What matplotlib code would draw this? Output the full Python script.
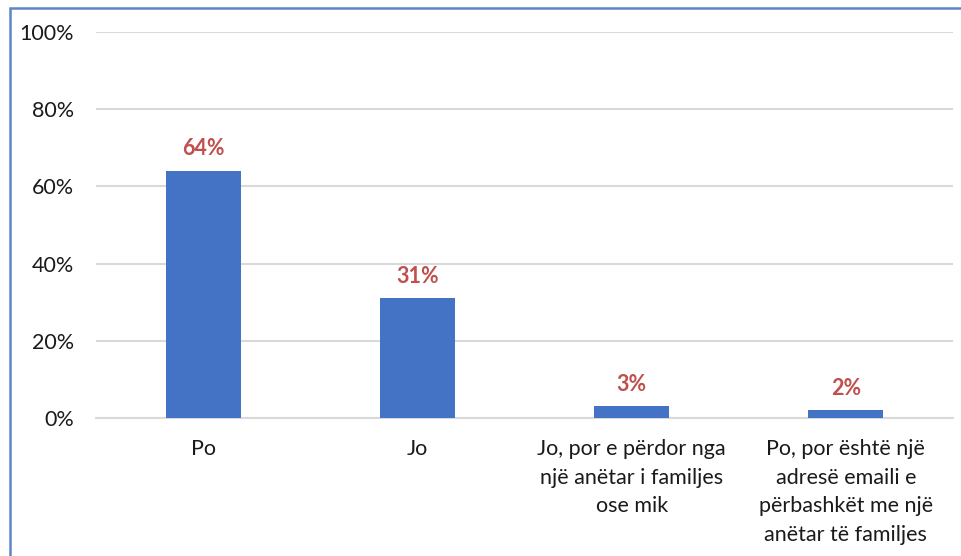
"""
Bar chart of email account usage responses (percent of respondents)
"""

### Import modules
import numpy as np
import matplotlib.pyplot as plt
from matplotlib.patches import Rectangle
from matplotlib.ticker import FuncFormatter

### Data
categories = ['Po',
              'Jo',
              'Jo, por e përdor nga\nnjë anëtar i familjes\nose mik',
              'Po, por është një\nadresë emaili e\npërbashkët me një\nanëtar të familjes']
values = [64, 31, 3, 2]
yticks = [0, 20, 40, 60, 80, 100]

### Styles
barcolor = '#4472C4'
labelcolor = '#C0504D'
gridcolor = '#D9D9D9'
bordercolor = '#5B87C6'

plt.rc('font', family=['Lato', 'DejaVu Sans'])

fig = plt.figure(figsize=(9.62, 5.56), dpi=100)
ax = fig.add_axes([96/962, 1-418/556, (953-96)/962, (418-32)/556])

x = np.arange(len(categories))
bars = ax.bar(x, values, width=0.35, color=barcolor, zorder=3)

### Value labels above the bars
for xi, v in zip(x, values):
    ax.annotate('%d%%' % v, xy=(xi, v), xytext=(0, 16), textcoords='offset points',
                ha='center', va='center', color=labelcolor, fontsize=15.5,
                fontweight='bold')

ax.set_xlim(-0.5, len(categories)-0.5)
ax.set_ylim(0, 100)
ax.set_yticks(yticks)
ax.yaxis.set_major_formatter(FuncFormatter(lambda v, p: '%d%%' % v))
ax.set_xticks(x)
ax.set_xticklabels(categories, linespacing=1.55)

ax.grid(axis='y', color=gridcolor, linewidth=1.5, zorder=0)
for s in ['top', 'right', 'left']:
    ax.spines[s].set_visible(False)
ax.spines['bottom'].set_color(gridcolor)
ax.spines['bottom'].set_linewidth(1.5)
ax.tick_params(axis='y', length=0, pad=16, labelsize=15.5, labelcolor='#1a1a1a')
ax.tick_params(axis='x', length=0, pad=15, labelsize=15.5, labelcolor='#1a1a1a')

### Frame around the chart area
fig.patches.append(Rectangle((10/962, -0.05), 1.1, 1-8/556+0.05,
                             transform=fig.transFigure, fill=False,
                             edgecolor=bordercolor, linewidth=1.8))

plt.savefig('out.png', dpi=100)
